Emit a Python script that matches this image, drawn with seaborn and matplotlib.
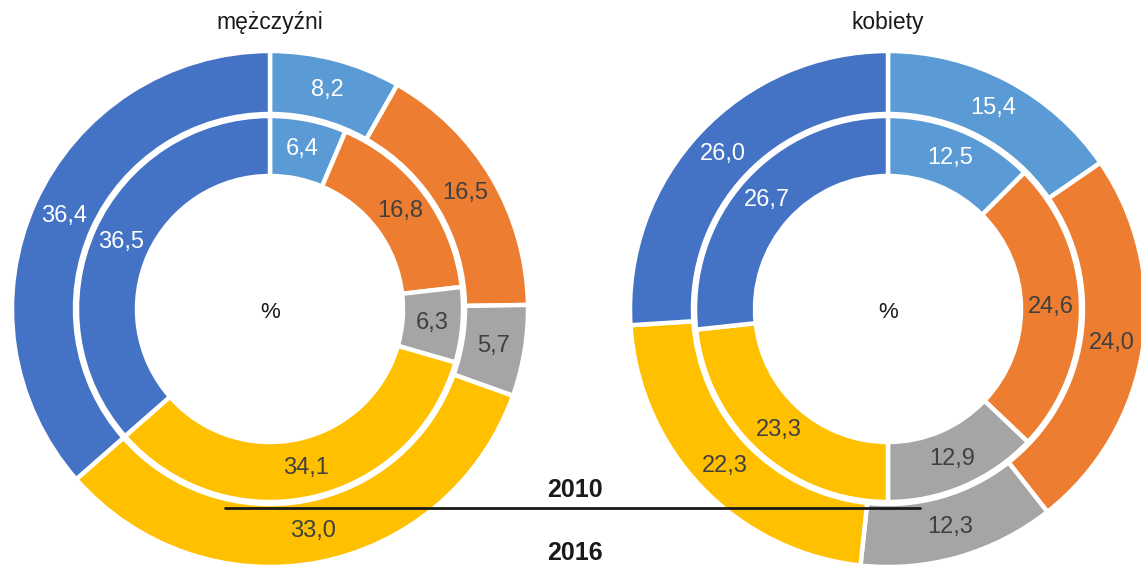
import numpy as np
import matplotlib
matplotlib.use("Agg")
import matplotlib.pyplot as plt
import seaborn as sns

# shares in %, clockwise from 12 o'clock
groups = ["mężczyźni", "kobiety"]
men_2010 = [6.4, 16.8, 6.3, 34.1, 36.5]
men_2016 = [8.2, 16.5, 5.7, 33.0, 36.4]
women_2010 = [12.5, 24.6, 12.9, 23.3, 26.7]
women_2016 = [15.4, 24.0, 12.3, 22.3, 26.0]
years = ["2010", "2016"]

colors = sns.color_palette(["#5B9BD5", "#ED7D31", "#A5A5A5", "#FFC000", "#4472C4"])
label_colors = ["white", "#404040", "#404040", "#404040", "white"]

sns.set_theme(style="white")
plt.rcParams["font.family"] = ["Liberation Sans", "DejaVu Sans"]

W, H = 1141, 571
fig = plt.figure(figsize=(W / 100, H / 100), dpi=100)
ax = fig.add_axes([0, 0, 1, 1])


def ring(values, cx, cy, radius, width):
    wedges, _ = ax.pie(values, colors=colors, startangle=90, counterclock=False,
                       radius=radius, center=(cx, cy), frame=True,
                       wedgeprops=dict(width=width, edgecolor="white", linewidth=3.2))
    mid = radius - width / 2
    for w, v, c in zip(wedges, values, label_colors):
        ang = np.deg2rad((w.theta1 + w.theta2) / 2)
        ax.text(cx + mid * np.cos(ang), cy + mid * np.sin(ang),
                f"{v:.1f}".replace(".", ","), color=c, fontsize=17,
                ha="center", va="center")


cy = H - 309
for name, cx, inner, outer in [(groups[0], 270, men_2010, men_2016),
                               (groups[1], 888, women_2010, women_2016)]:
    ring(outer, cx, cy, 258, 63)
    ring(inner, cx, cy, 193, 60)
    ax.text(cx, H - 22, name, fontsize=16.5, ha="center", va="center", color="#1a1a1a")
    ax.text(cx, cy - 4, "%", fontsize=16, ha="center", va="center", color="#1a1a1a")

# year marker line
ax.plot([225, 920], [H - 508, H - 508], color="#1a1a1a", linewidth=2)
ax.text(575, H - 490, years[0], fontsize=18, fontweight="bold", ha="center", va="center",
        family=["Liberation Sans Narrow", "Liberation Sans"], color="#1a1a1a")
ax.text(575, H - 553, years[1], fontsize=18, fontweight="bold", ha="center", va="center",
        family=["Liberation Sans Narrow", "Liberation Sans"], color="#1a1a1a")

ax.set_xlim(0, W)
ax.set_ylim(0, H)
ax.set_aspect("equal")
ax.axis("off")

fig.savefig("out.png", dpi=100)
